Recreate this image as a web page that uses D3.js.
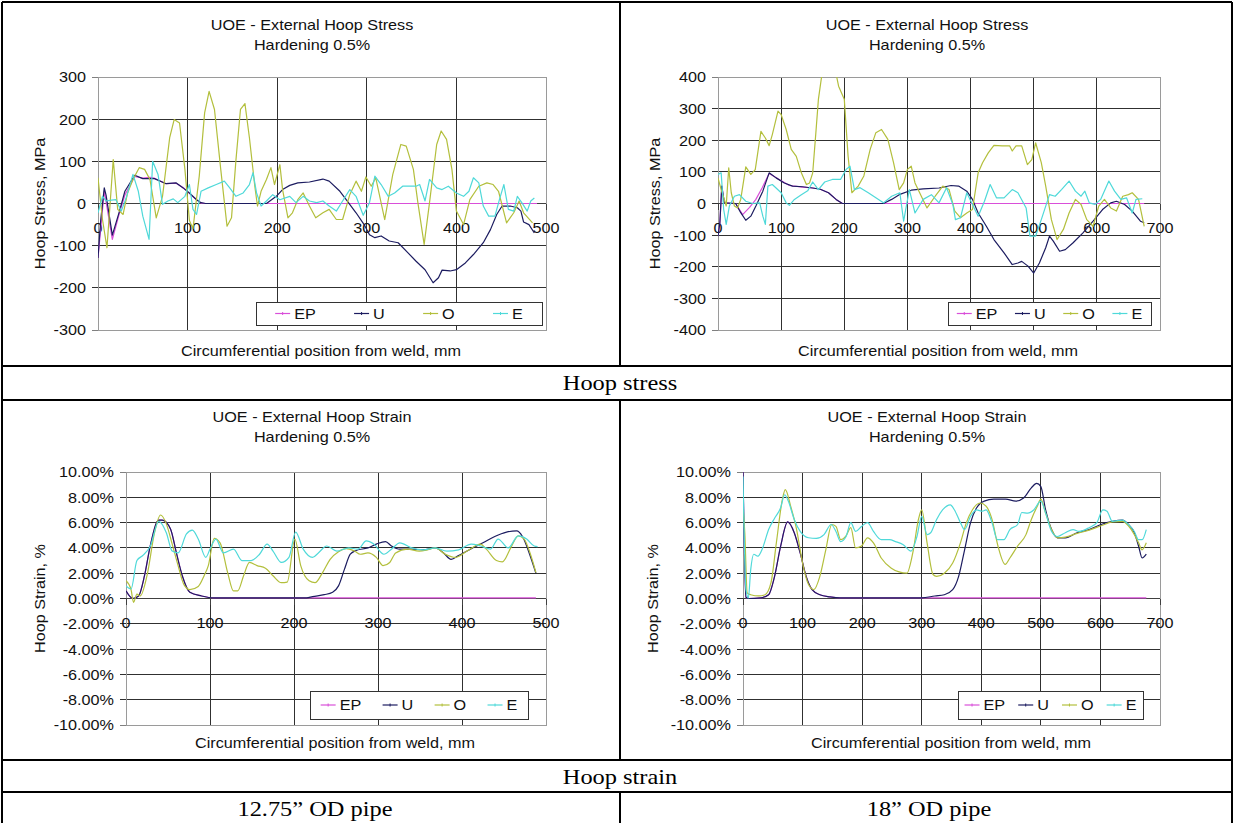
<!DOCTYPE html>
<html><head><meta charset="utf-8">
<script src="https://cdn.jsdelivr.net/npm/d3@7"></script>
<style>body{margin:0;background:#fff}svg{display:block}</style>
</head><body>
<svg id="c" width="1234" height="823"></svg>
<script>
// ---------- DATA ----------
const seriesNames = ["EP","U","O","E"];
const seriesColors = ["#d94fd9","#1c1c60","#b3bf3c","#4fd9d9"];
const titleLine1 = ["UOE - External Hoop Stress","UOE - External Hoop Stress","UOE - External Hoop Strain","UOE - External Hoop Strain"];
const titleLine2 = "Hardening 0.5%";
const yAxisTitles = ["Hoop Stress, MPa","Hoop Stress, MPa","Hoop Strain, %","Hoop Strain, %"];
const xAxisTitle = "Circumferential position from weld, mm";
const xTicks500 = [0,100,200,300,400,500];
const xTicks700 = [0,100,200,300,400,500,600,700];
const yTicksStress1 = [-300,-200,-100,0,100,200,300];
const yTicksStress2 = [-400,-300,-200,-100,0,100,200,300,400];
const yTicksStrain = [-10,-8,-6,-4,-2,0,2,4,6,8,10];
const rowLabels = ["Hoop stress","Hoop strain"];
const pipeLabels = ["12.75\u201D OD pipe","18\u201D OD pipe"];

// Chart 1: stress, 12.75" pipe  [position mm, MPa]
const s1_EP = [[0,-129],[7,30],[16,-85],[24,-22],[30,20],[41,64],[50,60],[58,62],[63,60],[76,47],[87,48],[95,38],[102,24],[110,9],[115,1],[120,0],[490,0]];
const s1_U = [[0,-129],[3,-40],[7,37],[9,20],[16,-75],[24,-18],[30,29],[41,67],[50,59],[63,59],[76,47],[87,49],[95,37],[102,25],[110,9],[115,2],[120,0],[188,0],[199,17],[206,33],[214,43],[223,49],[236,51],[251,58],[258,53],[270,29],[277,9],[288,-22],[297,-50],[303,-74],[309,-81],[316,-77],[325,-89],[335,-93],[346,-117],[355,-137],[365,-157],[374,-188],[380,-176],[384,-158],[393,-160],[400,-157],[410,-141],[419,-121],[430,-93],[438,-62],[445,-26],[451,-6],[460,-6],[468,-10],[472,-18],[475,-44],[481,-50],[487,-70]];
const s1_O = [[0,61],[5,-38],[10,-105],[17,104],[22,-14],[28,-26],[33,25],[39,57],[46,85],[52,81],[58,57],[65,-34],[72,17],[80,156],[85,199],[91,191],[97,81],[102,-40],[106,-60],[113,65],[119,215],[124,266],[130,223],[137,81],[144,-54],[149,-34],[154,104],[159,223],[164,237],[169,156],[175,41],[178,-6],[182,29],[188,57],[193,85],[197,45],[203,92],[206,33],[212,-34],[217,-22],[223,9],[229,25],[236,-6],[243,-34],[251,-22],[258,-14],[266,-38],[273,-38],[281,21],[288,53],[294,29],[299,63],[305,41],[310,61],[320,-38],[329,69],[338,140],[344,136],[352,81],[357,2],[364,-97],[370,2],[378,140],[383,172],[389,152],[395,81],[400,-18],[408,-50],[415,9],[425,41],[434,49],[441,45],[447,29],[456,-46],[464,-22],[470,6],[475,-22],[485,-46]];
const s1_E = [[0,-22],[5,17],[9,6],[15,8],[20,9],[26,-18],[32,17],[39,69],[45,29],[50,-30],[57,-85],[61,100],[67,69],[72,-2],[78,6],[84,11],[89,2],[97,17],[102,45],[106,-14],[110,-26],[115,29],[123,37],[132,45],[141,53],[147,37],[154,17],[162,25],[169,45],[173,73],[177,25],[182,-6],[188,6],[195,21],[203,9],[214,17],[221,2],[229,17],[236,6],[244,2],[251,6],[258,-6],[266,-18],[273,6],[281,33],[288,17],[296,-28],[303,2],[309,65],[316,45],[324,17],[331,25],[340,41],[355,41],[359,45],[365,6],[370,57],[378,37],[384,33],[391,41],[400,25],[408,17],[414,29],[419,61],[425,49],[430,-6],[436,-30],[443,-30],[448,9],[453,45],[458,-14],[464,-18],[468,17],[473,2],[479,-18],[483,6],[487,13]];

// Chart 2: stress, 18" pipe
const s2_EP = [[0,-103],[3,-60],[6,55],[10,2],[28,0],[39,-35],[50,-12],[60,13],[70,50],[81,95],[97,76],[113,57],[134,52],[150,49],[162,45],[175,34],[187,13],[197,0],[675,0]];
const s2_U = [[0,-103],[3,-60],[6,55],[10,2],[28,0],[36,-29],[44,-53],[52,-40],[60,-8],[71,39],[81,97],[92,81],[105,65],[118,55],[134,53],[150,49],[162,45],[175,34],[187,13],[197,0],[262,0],[275,13],[287,28],[306,42],[325,46],[350,49],[369,57],[381,55],[394,39],[403,13],[412,-30],[425,-72],[437,-114],[453,-156],[466,-193],[475,-188],[481,-183],[491,-198],[500,-220],[509,-188],[519,-140],[525,-103],[531,-119],[541,-151],[550,-146],[562,-125],[578,-93],[594,-56],[609,-19],[622,2],[631,7],[644,-3],[656,-24],[669,-56],[675,-61]];
const s2_O = [[0,81],[5,44],[10,13],[13,-8],[17,113],[21,34],[26,-8],[31,-14],[36,13],[44,116],[52,92],[59,107],[68,228],[75,207],[81,183],[86,218],[95,292],[100,281],[108,234],[116,171],[124,149],[132,97],[140,60],[145,65],[150,97],[155,224],[159,329],[164,400],[170,440],[180,450],[188,400],[191,371],[200,330],[206,150],[212,34],[222,55],[231,87],[241,171],[250,224],[259,234],[269,203],[278,129],[287,44],[294,65],[300,108],[306,118],[312,65],[322,23],[331,-14],[344,23],[356,55],[366,44],[375,-24],[384,-45],[394,-30],[403,-19],[412,97],[419,129],[428,160],[437,184],[450,182],[462,182],[466,166],[472,182],[481,182],[490,123],[497,139],[503,192],[512,129],[519,55],[528,-51],[537,-114],[547,-82],[556,-30],[566,13],[575,-3],[584,-51],[594,-72],[603,-8],[612,13],[622,-14],[631,-24],[641,23],[650,28],[656,34],[666,13],[675,-72]];
const s2_E = [[0,92],[5,97],[9,-19],[13,-66],[18,-8],[26,23],[34,28],[44,7],[55,0],[66,2],[71,-40],[75,-66],[79,55],[86,60],[92,49],[100,34],[108,2],[113,-6],[121,13],[132,28],[142,40],[150,68],[159,44],[169,68],[181,76],[194,76],[203,108],[209,118],[216,44],[225,50],[238,34],[250,18],[262,2],[275,23],[288,34],[294,-56],[303,44],[312,-30],[325,13],[338,28],[350,2],[362,50],[372,-3],[376,-51],[384,-45],[394,34],[403,-3],[412,-40],[422,7],[431,60],[441,18],[453,18],[466,44],[475,34],[488,-14],[494,-103],[503,-103],[512,-51],[525,28],[534,23],[544,44],[556,71],[566,39],[575,23],[581,39],[588,2],[597,-3],[606,13],[619,71],[628,39],[638,13],[647,18],[656,-30],[662,13],[672,15]];

// Chart 3: strain (%), 12.75" pipe
const s3_EP = [[0,0.6],[8,0],[15,0.2],[22,1.8],[29,4.2],[39,6.2],[43,6.2],[53,5.5],[60,3.6],[67,1.8],[76,0.5],[90,0.2],[105,0.05],[488,0.05]];
const s3_U = [[0,0.6],[8,0],[15,0.2],[22,1.8],[29,4.2],[39,6.2],[43,6.2],[53,5.5],[60,3.6],[67,1.8],[76,0.5],[90,0.2],[105,0.05],[215,0.05],[222,0.15],[236,0.3],[246,0.5],[253,1.0],[260,2.3],[267,3.5],[274,3.8],[288,4.0],[298,4.3],[309,4.5],[316,4.15],[326,3.9],[340,3.9],[354,3.85],[368,4.0],[378,3.6],[387,3.1],[396,3.4],[410,3.9],[425,4.4],[439,4.9],[453,5.25],[465,5.35],[472,4.9],[481,3.4],[488,2.0]];
const s3_O = [[0,1.4],[6,0.7],[9,-0.3],[13,0.35],[17,0.2],[25,1.8],[34,5.2],[41,6.6],[48,5.9],[55,4.3],[62,2.6],[69,1.1],[76,0.7],[86,0.95],[93,1.8],[98,2.6],[105,4.75],[112,4.4],[121,2.05],[128,0.6],[133,0.6],[140,1.8],[147,2.85],[156,2.6],[166,2.4],[175,1.8],[185,1.25],[192,1.3],[201,4.7],[208,2.6],[218,1.4],[225,1.25],[234,2.05],[243,3.1],[253,3.7],[262,3.95],[272,3.75],[279,3.5],[288,3.6],[298,3.25],[306,2.6],[314,2.85],[321,3.6],[335,3.9],[349,3.75],[359,3.85],[368,4.0],[380,3.5],[392,3.25],[406,3.75],[422,4.3],[429,3.9],[441,3.0],[448,2.9],[458,4.0],[467,4.95],[474,4.7],[481,3.6],[488,2.05]];
const s3_E = [[0,1.0],[6,0.75],[13,3.0],[20,3.4],[29,4.15],[39,6.1],[48,5.2],[55,3.75],[62,3.6],[72,5.1],[79,5.4],[86,4.7],[95,3.25],[100,3.9],[107,4.7],[116,3.6],[128,3.9],[138,3.0],[149,3.0],[159,3.5],[168,4.3],[175,3.75],[185,2.85],[194,3.25],[202,5.25],[211,3.9],[222,3.25],[229,3.6],[239,4.15],[251,3.75],[265,4.0],[276,3.9],[286,4.55],[295,4.3],[307,3.5],[316,3.9],[326,4.4],[340,4.0],[354,3.85],[368,4.0],[382,3.75],[396,3.85],[411,4.3],[422,4.15],[434,3.9],[443,4.7],[455,4.0],[467,4.95],[477,4.7],[486,4.15],[490,4.1]];

// Chart 4: strain (%), 18" pipe
const s4_EP = [[0,10.0],[5,0.1],[10,0],[30,0.05],[43,0.3],[53,1.75],[63,4.1],[75,6.05],[86,5.2],[96,3.6],[106,1.75],[116,0.7],[129,0.3],[146,0.13],[163,0.05],[677,0.05]];
const s4_U = [[0,10.0],[5,0.1],[10,0],[30,0.05],[43,0.3],[53,1.75],[63,4.1],[75,6.05],[86,5.2],[96,3.6],[106,1.75],[116,0.7],[129,0.3],[146,0.13],[163,0.05],[300,0.05],[322,0.2],[338,0.3],[352,0.7],[362,1.75],[372,3.85],[382,6.0],[392,7.15],[405,7.7],[421,7.85],[441,7.85],[458,7.7],[471,7.95],[484,8.75],[493,9.1],[500,8.85],[508,7.0],[518,5.45],[528,4.8],[541,4.8],[561,5.2],[581,5.45],[601,5.85],[620,6.1],[637,6.2],[647,5.85],[657,5.2],[664,4.15],[670,3.2],[677,3.5]];
const s4_O = [[0,7.3],[3,5.2],[7,0.45],[13,0.3],[27,0.2],[37,0.3],[47,1.25],[56,4.4],[66,7.8],[71,8.6],[80,7.3],[90,5.45],[100,2.8],[110,1.1],[119,0.7],[129,1.75],[139,3.85],[149,5.85],[156,5.7],[164,4.65],[173,4.95],[181,5.6],[189,4.0],[199,4.15],[209,4.8],[219,4.4],[232,3.2],[249,2.4],[262,2.1],[275,2.0],[285,3.6],[295,6.35],[300,7.0],[309,4.4],[319,1.9],[325,1.75],[338,2.0],[352,2.8],[365,4.4],[375,6.0],[385,7.0],[398,7.55],[408,7.3],[418,6.25],[428,4.15],[440,2.7],[448,3.2],[461,4.15],[475,5.05],[484,6.25],[494,7.3],[500,7.85],[508,6.75],[518,5.45],[528,4.8],[541,4.85],[561,5.15],[581,5.4],[601,5.75],[620,6.05],[637,6.1],[647,5.75],[657,5.05],[664,4.4],[670,3.85],[677,4.4]];
const s4_E = [[0,9.65],[5,0.7],[9,0.05],[13,2.3],[18,3.5],[25,3.35],[33,4.0],[43,5.45],[53,6.35],[63,7.15],[70,8.2],[76,7.7],[86,6.25],[96,5.3],[110,4.8],[123,4.75],[136,5.05],[148,5.85],[156,5.3],[164,4.5],[173,4.9],[181,6.0],[189,5.3],[199,5.7],[209,6.0],[219,5.3],[232,4.65],[246,4.65],[256,4.5],[269,4.25],[282,3.75],[292,4.9],[300,6.5],[309,5.05],[315,5.2],[325,6.25],[335,7.0],[348,7.4],[355,7.0],[365,6.0],[372,5.45],[382,6.5],[392,7.0],[402,6.9],[408,7.0],[418,6.0],[427,4.65],[438,4.65],[448,5.45],[461,5.85],[468,6.8],[478,6.75],[488,7.0],[500,7.7],[508,6.75],[518,5.3],[528,4.9],[541,5.2],[554,5.45],[564,5.3],[581,5.6],[594,6.0],[604,7.0],[611,6.9],[620,6.1],[637,6.2],[647,5.85],[657,5.3],[664,4.65],[670,4.65],[677,5.45]];

// ---------- LAYOUT ----------
const svg = d3.select("#c");
const SANS = "'Liberation Sans', Arial, sans-serif";
const SERIF = "'Liberation Serif', 'Times New Roman', serif";
const FS = 15, SX = 1.08;          // chart text size and horizontal stretch
const TFS = 20, TSX = 1.22;        // table text size and stretch

function txt(parent, x, y, str, o={}) {
  const rot = o.rotate || 0, sx = o.sx || SX;
  return parent.append("text")
    .attr("transform", `translate(${x},${y}) rotate(${rot}) scale(${sx},1)`)
    .attr("text-anchor", o.anchor || "middle").attr("dy", o.dy || "0.35em")
    .style("font-family", o.family || SANS).style("font-size", (o.size || FS) + "px")
    .attr("fill", o.fill || "#111").text(str);
}

const charts = [
  {t1:titleLine1[0], ylab:yAxisTitles[0], xTicks:xTicks500, yTicks:yTicksStress1, fmt:d=>String(d),
   series:[s1_EP,s1_U,s1_O,s1_E], curve:d3.curveLinear,
   p:{l:98,r:546,t:77,b:330}, titleX:312, titleY:25, ylabX:40, xlabX:321, xlabY:351, lg:{l:256,r:542,t:302,b:325}},
  {t1:titleLine1[1], ylab:yAxisTitles[1], xTicks:xTicks700, yTicks:yTicksStress2, fmt:d=>String(d),
   series:[s2_EP,s2_U,s2_O,s2_E], curve:d3.curveLinear,
   p:{l:718,r:1160,t:77,b:330}, titleX:927, titleY:25, ylabX:655, xlabX:938, xlabY:351, lg:{l:948,r:1151,t:302,b:325}},
  {t1:titleLine1[2], ylab:yAxisTitles[2], xTicks:xTicks500, yTicks:yTicksStrain, fmt:d=>d.toFixed(2)+"%",
   series:[s3_EP,s3_U,s3_O,s3_E], curve:d3.curveMonotoneX,
   p:{l:126,r:546,t:472,b:725}, titleX:312, titleY:417, ylabX:40, xlabX:335, xlabY:743, lg:{l:310,r:528,t:691,b:719}},
  {t1:titleLine1[3], ylab:yAxisTitles[3], xTicks:xTicks700, yTicks:yTicksStrain, fmt:d=>d.toFixed(2)+"%",
   series:[s4_EP,s4_U,s4_O,s4_E], curve:d3.curveMonotoneX,
   p:{l:743,r:1160,t:472,b:725}, titleX:927, titleY:417, ylabX:653, xlabX:951, xlabY:743, lg:{l:958,r:1143,t:691,b:719}}
];

charts.forEach((c,ci)=>{
  const g = svg.append("g");
  const xmax = d3.max(c.xTicks), ymin = d3.min(c.yTicks), ymax = d3.max(c.yTicks);
  const x = d3.scaleLinear().domain([0,xmax]).range([c.p.l,c.p.r]);
  const y = d3.scaleLinear().domain([ymin,ymax]).range([c.p.b,c.p.t]);
  const y0 = y(0);

  // titles
  txt(g, c.titleX, c.titleY, c.t1);
  txt(g, c.titleX, c.titleY+20, titleLine2);

  // horizontal gridlines (with outside tick)
  g.append("g").selectAll("line").data(c.yTicks.filter(v=>v!==ymin && v!==ymax)).join("line")
    .attr("x1",c.p.l-6).attr("x2",c.p.r).attr("y1",d=>y(d)).attr("y2",d=>y(d))
    .attr("stroke","#303030").attr("stroke-width",1).attr("shape-rendering","crispEdges");
  g.append("g").selectAll("line").data([ymin,ymax]).join("line")
    .attr("x1",c.p.l-6).attr("x2",c.p.l).attr("y1",d=>y(d)).attr("y2",d=>y(d))
    .attr("stroke","#808080").attr("shape-rendering","crispEdges");
  // vertical gridlines
  g.append("g").selectAll("line").data(c.xTicks.filter(v=>v!==0 && v!==xmax)).join("line")
    .attr("x1",d=>x(d)).attr("x2",d=>x(d)).attr("y1",c.p.t).attr("y2",c.p.b)
    .attr("stroke","#303030").attr("stroke-width",1).attr("shape-rendering","crispEdges");
  // plot border
  g.append("rect").attr("x",c.p.l).attr("y",c.p.t).attr("width",c.p.r-c.p.l).attr("height",c.p.b-c.p.t)
    .attr("fill","none").attr("stroke","#9a9a9a").attr("shape-rendering","crispEdges");
  // x axis at y=0 with ticks
  g.append("line").attr("x1",c.p.l).attr("x2",c.p.r).attr("y1",y0).attr("y2",y0)
    .attr("stroke","#404040").attr("shape-rendering","crispEdges");
  g.append("g").selectAll("line").data(c.xTicks).join("line")
    .attr("x1",d=>x(d)).attr("x2",d=>x(d)).attr("y1",y0).attr("y2",y0+6)
    .attr("stroke","#404040").attr("shape-rendering","crispEdges");

  // tick labels
  c.yTicks.forEach(v=>txt(g, c.p.l-12, y(v), c.fmt(v), {anchor:"end", dy:"0.36em"}));
  c.xTicks.forEach(v=>txt(g, x(v), y0+24, String(v)));

  // axis titles
  txt(g, c.ylabX, (c.p.t+c.p.b)/2, c.ylab, {rotate:-90});
  txt(g, c.xlabX, c.xlabY, xAxisTitle);

  // series
  const clipId = "clip"+ci;
  svg.append("clipPath").attr("id",clipId).append("rect")
    .attr("x",c.p.l).attr("y",c.p.t).attr("width",c.p.r-c.p.l).attr("height",c.p.b-c.p.t);
  const line = d3.line().x(d=>x(d[0])).y(d=>y(d[1])).curve(c.curve);
  const sg = g.append("g").attr("clip-path",`url(#${clipId})`);
  c.series.forEach((s,si)=>{
    sg.append("path").datum(s).attr("d",line).attr("fill","none")
      .attr("stroke",seriesColors[si]).attr("stroke-width",1.2).attr("stroke-linejoin","round");
  });

  // legend
  const lg = c.lg;
  g.append("rect").attr("x",lg.l).attr("y",lg.t).attr("width",lg.r-lg.l).attr("height",lg.b-lg.t)
    .attr("fill","#fff").attr("stroke","#333").attr("shape-rendering","crispEdges");
  const ly = (lg.t+lg.b)/2;
  const tmp = g.append("g").style("font-family",SANS).style("font-size",FS+"px");
  const widths = seriesNames.map(n=>{const t=tmp.append("text").text(n); const w=t.node().getComputedTextLength()*SX; t.remove(); return w;});
  tmp.remove();
  const sample = 15, gapT = 4;
  const content = d3.sum(widths) + seriesNames.length*(sample+gapT);
  const gap = ((lg.r-lg.l) - content)/seriesNames.length;
  let cx = lg.l + gap/2;
  seriesNames.forEach((n,i)=>{
    g.append("line").attr("x1",cx).attr("x2",cx+sample).attr("y1",ly).attr("y2",ly)
      .attr("stroke",seriesColors[i]).attr("stroke-width",1.2);
    g.append("line").attr("x1",cx+sample/2).attr("x2",cx+sample/2).attr("y1",ly-1.5).attr("y2",ly+1.5)
      .attr("stroke",seriesColors[i]).attr("stroke-width",1);
    txt(g, cx+sample+gapT, ly, n, {anchor:"start", dy:"0.36em"});
    cx += sample+gapT+widths[i]+gap;
  });
});

// ---------- TABLE ----------
const tb = {l:2, r:1232, top:2, bottom:823, mid:620, rows:[366,400,760,792]};
const T = svg.append("g").attr("stroke","#000").attr("stroke-width",2).attr("shape-rendering","crispEdges");
T.append("line").attr("x1",tb.l).attr("x2",tb.r).attr("y1",tb.top).attr("y2",tb.top);
T.append("line").attr("x1",tb.l).attr("x2",tb.l).attr("y1",tb.top).attr("y2",tb.bottom);
T.append("line").attr("x1",tb.r).attr("x2",tb.r).attr("y1",tb.top).attr("y2",tb.bottom);
tb.rows.forEach(r=>T.append("line").attr("x1",tb.l).attr("x2",tb.r).attr("y1",r).attr("y2",r));
[[tb.top,tb.rows[0]],[tb.rows[1],tb.rows[2]],[tb.rows[3],tb.bottom]].forEach(([a,b])=>
  T.append("line").attr("x1",tb.mid).attr("x2",tb.mid).attr("y1",a).attr("y2",b));

const rowTextY = [383,777];
rowLabels.forEach((t,i)=>txt(svg, 620, rowTextY[i], t, {family:SERIF, size:TFS, sx:TSX, fill:"#000"}));
const pipeX = [315,929];
pipeLabels.forEach((t,i)=>txt(svg, pipeX[i], 809, t, {family:SERIF, size:TFS, sx:TSX, fill:"#000"}));
</script>
</body></html>
